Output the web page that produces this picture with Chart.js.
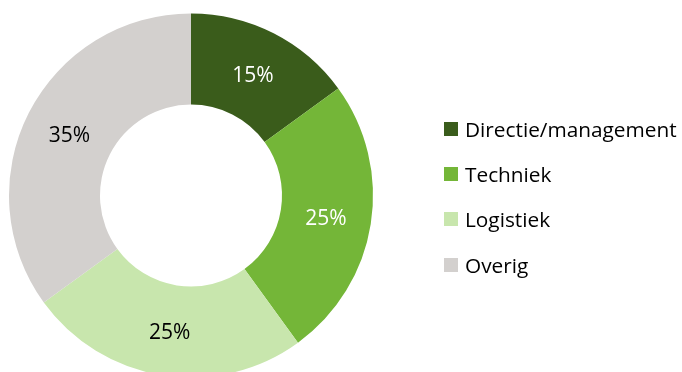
<!DOCTYPE html>
<html>
<head>
<meta charset="utf-8">
<script src="https://cdn.jsdelivr.net/npm/chart.js@4"></script>
<style>
  html, body { margin: 0; padding: 0; background: #fff; overflow: hidden; }
  #wrap { position: relative; width: 682px; height: 380px; }
  #legend { position: absolute; left: 444px; top: 113px; font-family: "Open Sans", sans-serif; font-size: 20.8px; color: #000; }
  .legend-item { display: flex; align-items: center; height: 32px; margin-bottom: 13.2px; white-space: nowrap; }
  .legend-box { width: 14px; height: 14px; margin-right: 7px; flex: none; }
</style>
</head>
<body>
<div id="wrap">
  <canvas id="donut" width="682" height="380"></canvas>
  <div id="legend"></div>
</div>
<script>
// afdelingen en hun aandeel
const labels = ['Directie/management', 'Techniek', 'Logistiek', 'Overig'];
const values = [15, 25, 25, 35];
const colors = ['#3A5C1B', '#74B638', '#C8E6AD', '#D3D0CE'];
const labelColors = ['#ffffff', '#ffffff', '#000000', '#000000'];

// percentages midden in de ring tekenen
const sliceLabels = {
    id: 'sliceLabels',
    afterDatasetsDraw(chart) {
        const ctx = chart.ctx;
        const meta = chart.getDatasetMeta(0);
        ctx.save();
        ctx.font = '21px "Open Sans", sans-serif';
        ctx.textAlign = 'center';
        ctx.textBaseline = 'middle';
        meta.data.forEach((arc, i) => {
            const pos = arc.tooltipPosition();
            ctx.fillStyle = labelColors[i];
            ctx.fillText(values[i] + '%', pos.x, pos.y + 2.5);
        });
        ctx.restore();
    }
};

new Chart(document.getElementById('donut'), {
    type: 'doughnut',
    data: {
        labels: labels,
        datasets: [{
            data: values,
            backgroundColor: colors,
            borderWidth: 0
        }]
    },
    options: {
        responsive: false,
        animation: false,
        cutout: '50%',
        layout: { padding: { left: 9, top: 13.5, right: 309, bottom: 2.5 } },
        plugins: {
            legend: { display: false },
            tooltip: { enabled: false }
        }
    },
    plugins: [sliceLabels]
});

// legenda rechts
const legendEl = document.getElementById('legend');
labels.forEach((name, i) => {
    const item = document.createElement('div');
    item.className = 'legend-item';
    item.innerHTML = `<span class="legend-box" style="background:${colors[i]}"></span><span>${name}</span>`;
    legendEl.appendChild(item);
});
</script>
</body>
</html>
